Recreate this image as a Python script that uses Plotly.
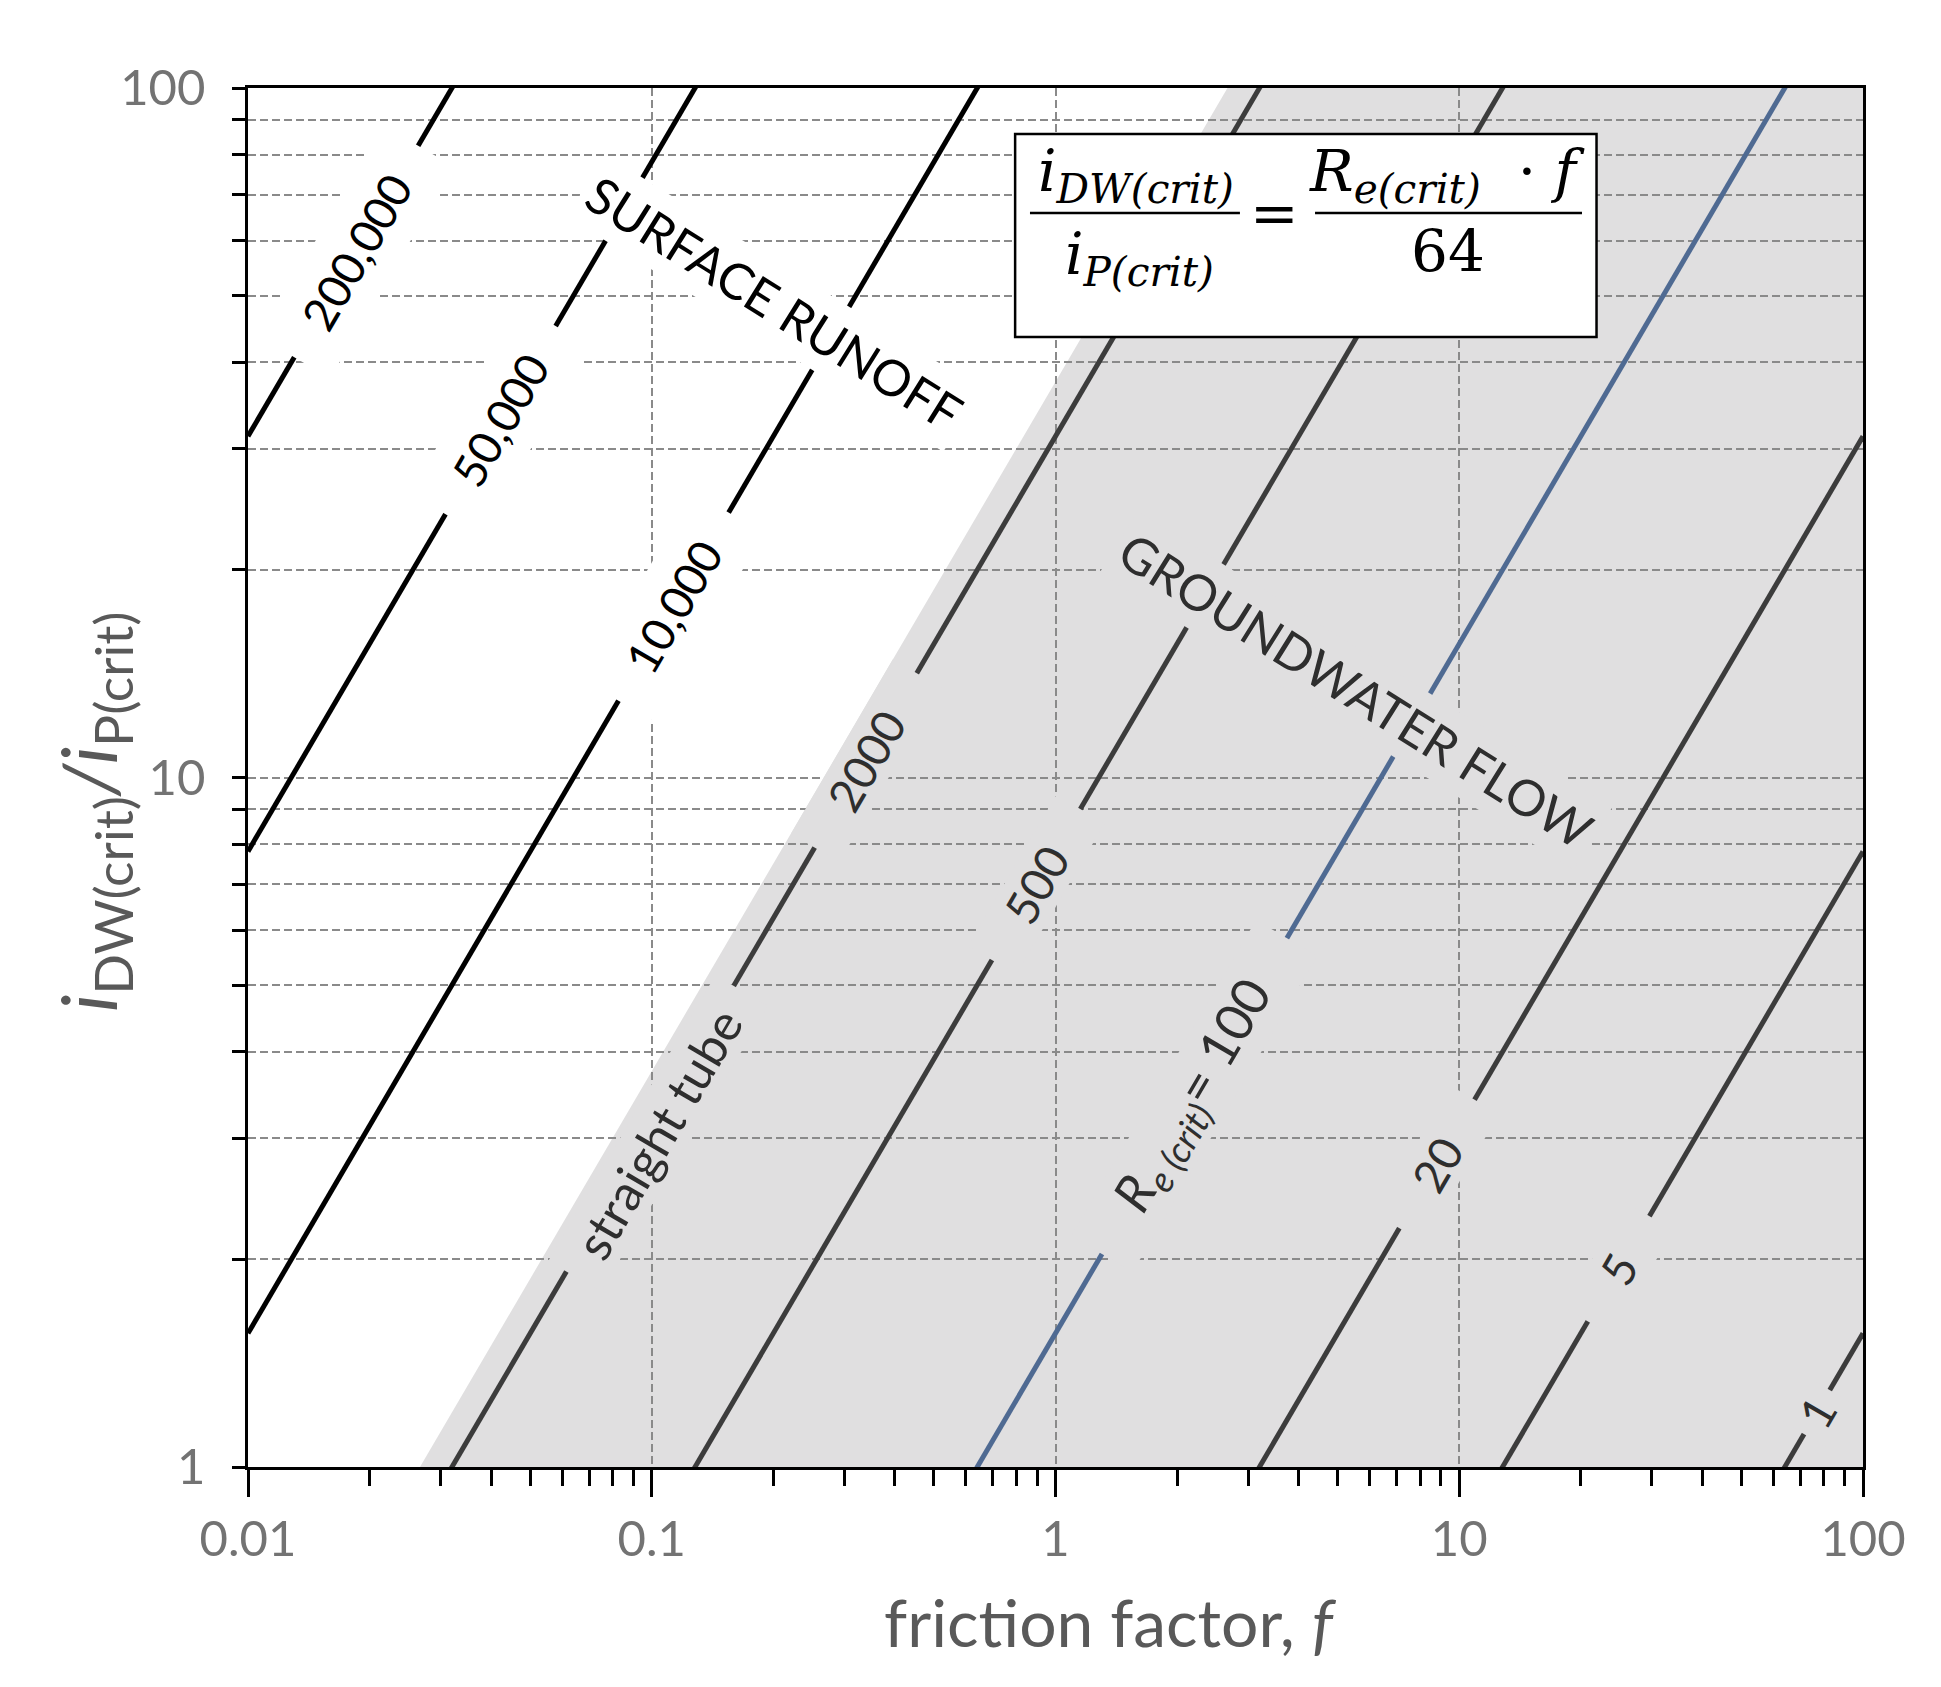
import numpy as np
import plotly.graph_objects as go

# ---- values:  i_DW(crit) / i_P(crit) = Re(crit) * f / 64 ----
re_crit = [200000, 50000, 10000, 2000, 500, 100, 20, 5, 1]
re_text = ["200,000", "50,000", "10,000", "2000", "500",
           "<i>R</i><sub><i>e (crit)</i></sub>= 100", "20", "5", "1"]
label_at = [58, 33, 17.7, 10.6, 7.0, 3.45, 2.75, 1.94, 1.2]   # ratio value where each label sits
re_groundwater = 2400        # lines left of this edge are surface runoff
f_ends = [0.01, 100]
ratio_ends = [1, 100]

x_ticks = [0.01, 0.1, 1, 10, 100]
x_ticktext = ["0.01", "0.1", "1", "10", "100"]
y_ticks = [1, 10, 100]
y_ticktext = ["1", "10", "100"]

GREY = "#e0dfe0"
GRID = "#8a8a8a"
BLUE = "#4f6a92"
DARK = "#3c3c3c"
ANG = -59.7   # slope of the lines on screen


def ratio(re, f):
    return re * f / 64.0


def pad(txt, n):
    sp = "&nbsp;" * n
    return sp + txt + sp


fig = go.Figure()

# groundwater zone (grey), drawn under the gridlines; path coords are data values
f_lo = 64.0 * ratio_ends[0] / re_groundwater
f_hi = 64.0 * ratio_ends[1] / re_groundwater
fig.add_shape(type="path", xref="x", yref="y", layer="below",
              path=(f"M {f_lo},{ratio_ends[0]} L {f_hi},{ratio_ends[1]} "
                    f"L {f_ends[1]},{ratio_ends[1]} L {f_ends[1]},{ratio_ends[0]} Z"),
              fillcolor=GREY, line_width=0)

# one line per critical Reynolds number
for re in re_crit:
    if re > re_groundwater:
        col = "black"
    elif re == 100:
        col = BLUE
    else:
        col = DARK
    fig.add_trace(go.Scatter(x=f_ends, y=[ratio(re, f) for f in f_ends],
                             mode="lines", line=dict(color=col, width=5),
                             hoverinfo="skip", showlegend=False))

# labels on the lines (opaque boxes cut the lines like in the original)
for re, txt, yl in zip(re_crit, re_text, label_at):
    white_zone = re > re_groundwater
    if white_zone:
        n_sp = 2
    elif re == 1:
        n_sp = 1
    else:
        n_sp = 4
    fig.add_annotation(x=np.log10(64.0 * yl / re), y=np.log10(yl), xref="x", yref="y",
                       text=pad(txt, n_sp), showarrow=False, textangle=ANG,
                       font=dict(family="Lato", size=52 if re == 100 else 46,
                                 color="black" if white_zone else "#2e2e2e"),
                       bgcolor="white" if white_zone else GREY,
                       borderpad=13 if white_zone else 0)

fig.add_annotation(x=np.log10(64.0 * 3.05 / 2000), y=np.log10(3.05), xref="x", yref="y",
                   text=pad("straight tube", 2), showarrow=False,
                   textangle=ANG, xshift=11,
                   font=dict(family="Lato", size=50, color="#2e2e2e"), bgcolor=GREY, borderpad=0)

fig.add_annotation(x=np.log10(0.201), y=np.log10(48.8), xref="x", yref="y",
                   text="SURFACE RUNOFF", showarrow=False, textangle=32,
                   font=dict(family="Lato", size=50, color="black"), bgcolor="white", borderpad=6)
fig.add_annotation(x=np.log10(5.54), y=np.log10(13.4), xref="x", yref="y",
                   text="GROUNDWATER FLOW", showarrow=False, textangle=32,
                   font=dict(family="Lato", size=50, color="#2e2e2e"), bgcolor=GREY, borderpad=6)

# equation box
fig.add_shape(type="rect", xref="paper", yref="paper", layer="above",
              x0=0.475, x1=0.835, y0=0.8195, y1=0.9667,
              fillcolor="white", line=dict(color="black", width=2.5))
fig.add_shape(type="line", xref="paper", yref="paper", layer="above",
              x0=0.4842, x1=0.6142, y0=0.9094, y1=0.9094, line=dict(color="black", width=2.5))
fig.add_shape(type="line", xref="paper", yref="paper", layer="above",
              x0=0.6607, x1=0.8260, y0=0.9094, y1=0.9094, line=dict(color="black", width=2.5))
eq_font = dict(family="DejaVu Serif", size=58, color="black")
for txt, xp, yp in [("<i>i</i><sub><i>DW(crit)</i></sub>", 0.5498, 0.937),
                    ("<i>i</i><sub><i>P(crit)</i></sub>", 0.5523, 0.877),
                    ("=", 0.6359, 0.9094),
                    ("<i>R</i><sub><i>e(crit)</i></sub>&nbsp;&nbsp;· <i>f</i>", 0.7430, 0.937),
                    ("64", 0.7430, 0.882)]:
    fig.add_annotation(x=xp, y=yp, xref="paper", yref="paper", text=txt,
                       showarrow=False, font=eq_font, xanchor="center", yanchor="middle")

# axis titles
fig.add_annotation(x=0.534, y=-0.1124, xref="paper", yref="paper",
                   xanchor="center", yanchor="middle",
                   text="friction factor, <i>f</i>", showarrow=False,
                   font=dict(family="Lato", size=66, color="#595959"))
fig.add_annotation(x=-0.096, y=0.475, xref="paper", yref="paper", textangle=-90,
                   xanchor="center", yanchor="middle",
                   text="<i>i</i><sub>DW(crit)</sub><i>/</i><i>i</i><sub>P(crit)</sub>",
                   showarrow=False, font=dict(family="Lato", size=76, color="#595959"))

minor_x = [k * 10.0 ** d for d in range(-2, 2) for k in range(2, 10)]
minor_y = [k * 10.0 ** d for d in range(0, 2) for k in range(2, 10)]

fig.update_xaxes(type="log", range=[-2, 2], tickvals=x_ticks, ticktext=x_ticktext,
                 ticks="outside", ticklen=27, tickwidth=2.5, tickcolor="black",
                 showline=True, linecolor="black", linewidth=2.5, mirror=True,
                 showgrid=True, gridcolor=GRID, gridwidth=1.5, griddash="8px,4px",
                 zeroline=False, tickfont=dict(family="Lato", size=49, color="#737373"),
                 minor=dict(tickvals=minor_x, ticks="outside", ticklen=16, tickwidth=2.5,
                            tickcolor="black", showgrid=False))
fig.update_yaxes(type="log", range=[0, 2], tickvals=y_ticks, ticktext=y_ticktext,
                 ticks="outside", ticklen=13, tickwidth=2.5, tickcolor="black",
                 showline=True, linecolor="black", linewidth=2.5, mirror=True,
                 showgrid=True, gridcolor=GRID, gridwidth=1.5, griddash="8px,4px",
                 zeroline=False, tickfont=dict(family="Lato", size=49, color="#737373"),
                 ticklabelstandoff=17,
                 minor=dict(tickvals=minor_y, ticks="outside", ticklen=13, tickwidth=2.5,
                            tickcolor="black", showgrid=True, gridcolor=GRID,
                            gridwidth=1.5, griddash="8px,4px"))

# page body adds an 8px offset, so the margins are trimmed by that much
fig.update_layout(width=1941, height=1687, margin=dict(l=240, r=86, t=80, b=228),
                  plot_bgcolor="white", paper_bgcolor="white", showlegend=False)

fig.write_html("out.html")
